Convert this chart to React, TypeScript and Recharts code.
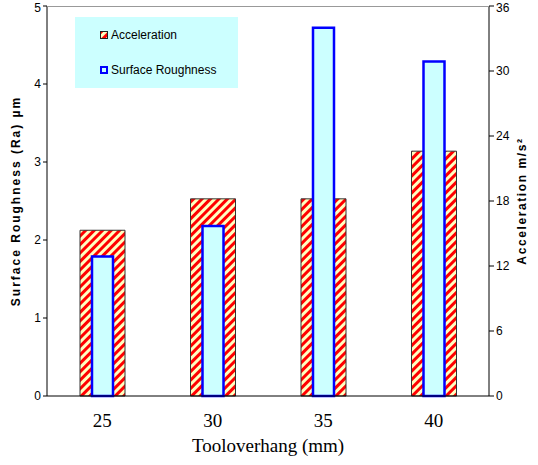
import type { FC } from 'react';
import { Bar, BarChart, XAxis, YAxis } from 'recharts';

const overhang = ['25', '30', '35', '40'];
const acceleration = [15.3, 18.2, 18.2, 22.6];
const roughness = [1.79, 2.18, 4.72, 4.29];
const roughTicks = [0, 1, 2, 3, 4, 5];
const accelTicks = [0, 6, 12, 18, 24, 30, 36];

const rows = overhang.map((o, i) => ({ o, acc: acceleration[i], ra: roughness[i] }));

const sans = 'Liberation Sans, Arial, sans-serif';
const serif = 'Liberation Serif, Times New Roman, serif';

const LegendBox: FC = () => (
  <div
    style={{
      position: 'absolute',
      left: 75,
      top: 17,
      background: '#CCFFFF',
      width: 163,
      height: 71,
      fontFamily: sans,
      fontSize: 12,
      color: '#000',
    }}
  >
    <div style={{ position: 'absolute', left: 25, top: 11, display: 'flex', alignItems: 'center' }}>
      <svg width={8} height={8} style={{ marginRight: 3 }}>
        <rect x={0.5} y={0.5} width={7} height={7} fill="url(#hatch)" stroke="#222" />
      </svg>
      Acceleration
    </div>
    <div style={{ position: 'absolute', left: 25, top: 46, display: 'flex', alignItems: 'center' }}>
      <svg width={8} height={8} style={{ marginRight: 3 }}>
        <rect x={1} y={1} width={6} height={6} fill="#CCFFFF" stroke="#0000FF" strokeWidth={2} />
      </svg>
      Surface Roughness
    </div>
  </div>
);

const App: FC = () => {
  return (
    <div style={{ position: 'absolute', left: 0, top: 0 }}>
      <BarChart width={538} height={465} data={rows} margin={{ top: 6, right: 0, left: 0, bottom: 4 }}>
        <defs>
          <pattern id="hatch" width="6" height="6" patternUnits="userSpaceOnUse" patternTransform="rotate(45)">
            <rect width="6" height="6" fill="#FFFFC0" />
            <rect width="3" height="6" fill="#FF0000" />
          </pattern>
        </defs>
        <XAxis
          xAxisId="a"
          dataKey="o"
          height={65}
          tickLine={false}
          stroke="#000"
          tick={{ fill: '#000', fontSize: 19, fontFamily: serif }}
          tickMargin={12}
          label={{
            value: 'Tooloverhang (mm)',
            position: 'insideBottom',
            offset: 9,
            fill: '#000',
            fontSize: 19,
            fontFamily: serif,
          }}
        />
        <XAxis xAxisId="b" dataKey="o" hide />
        <YAxis
          yAxisId="l"
          width={47}
          domain={[0, 5]}
          ticks={roughTicks}
          stroke="#000"
          tickSize={4}
          tick={{ fill: '#000', fontSize: 12, fontFamily: sans }}
          label={{
            value: 'Surface Roughness (Ra) µm',
            angle: -90,
            position: 'insideLeft',
            offset: 16,
            style: { textAnchor: 'middle', letterSpacing: 2 },
            fill: '#000',
            fontSize: 12,
            fontWeight: 'bold',
            fontFamily: sans,
          }}
        />
        <YAxis
          yAxisId="r"
          orientation="right"
          width={49}
          domain={[0, 36]}
          ticks={accelTicks}
          stroke="#000"
          tickSize={5}
          tick={{ fill: '#000', fontSize: 12, fontFamily: sans }}
          label={{
            value: 'Acceleration m/s²',
            angle: -90,
            position: 'insideRight',
            offset: 16,
            style: { textAnchor: 'middle', letterSpacing: 1.6 },
            fill: '#000',
            fontSize: 12,
            fontWeight: 'bold',
            fontFamily: sans,
          }}
        />
        <Bar
          xAxisId="a"
          yAxisId="r"
          dataKey="acc"
          name="Acceleration"
          barSize={45}
          fill="url(#hatch)"
          stroke="#333"
          strokeWidth={1}
          isAnimationActive={false}
        />
        <Bar
          xAxisId="b"
          yAxisId="l"
          dataKey="ra"
          name="Surface Roughness"
          barSize={21}
          fill="#CCFFFF"
          stroke="#0000FF"
          strokeWidth={2.5}
          isAnimationActive={false}
        />
      </BarChart>
      <svg
        width={538}
        height={465}
        style={{ position: 'absolute', left: 0, top: 0, pointerEvents: 'none' }}
      >
        <line x1={47} x2={489} y1={6.5} y2={6.5} stroke="#999" strokeWidth={1} />
      </svg>
      <LegendBox />
    </div>
  );
};

export default App;
